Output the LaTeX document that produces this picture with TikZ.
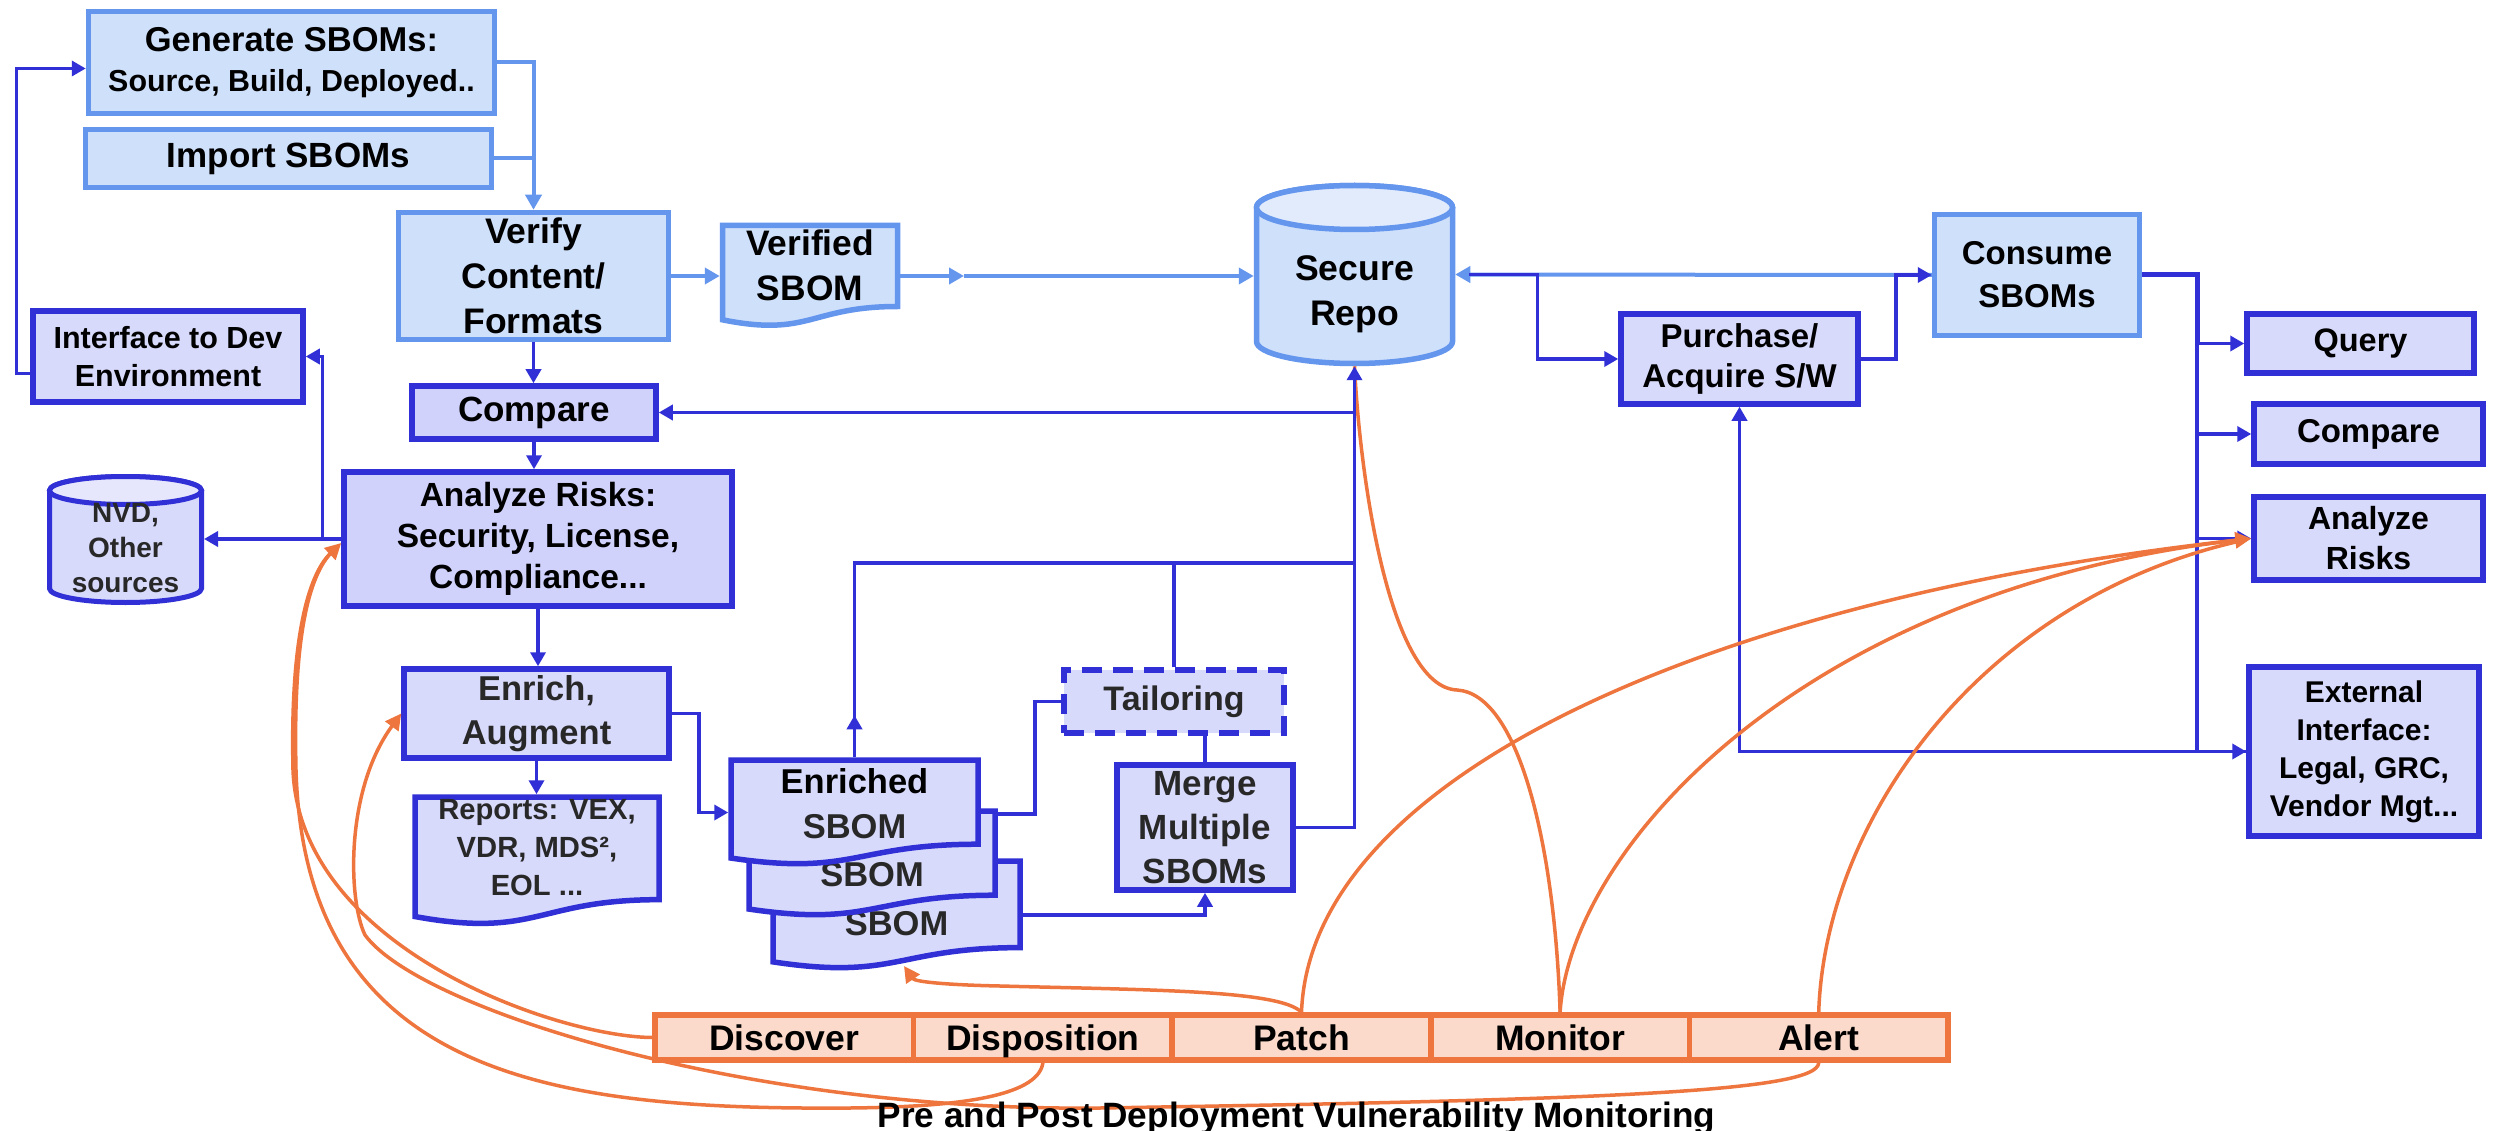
\documentclass[tikz,border=0pt]{standalone}
\usepackage{fontspec}
\setmainfont{Liberation Sans}
\usetikzlibrary{arrows.meta,calc}

\definecolor{lbline}{RGB}{100,150,238}
\definecolor{lbfill}{RGB}{207,224,250}
\definecolor{lbtop}{RGB}{225,235,252}
\definecolor{dbline}{RGB}{48,48,214}
\definecolor{dbfill}{RGB}{216,218,252}
\definecolor{dbfillb}{RGB}{208,210,252}
\definecolor{dbtop}{RGB}{230,231,253}
\definecolor{orline}{RGB}{238,118,62}
\definecolor{orfill}{RGB}{251,218,203}
\definecolor{tgray}{RGB}{40,40,40}

\newcommand\fz[2]{\fontsize{#1pt}{#2pt}\selectfont}

% document shape: style, left x, top y, width, height (y grows downward)
\newcommand\docshape[5]{%
  \path[#1] (#2,#3) -- ({#2+#4},#3) -- ({#2+#4},{#3+0.802*#5})
    .. controls ({#2+0.5*#4},{#3+0.802*#5}) and ({#2+0.5*#4},{#3+1.1075*#5})
    .. (#2,{#3+0.934*#5}) -- cycle;}

\tikzset{
  lbox/.style={draw=lbline, fill=lbfill, line width=5.5pt, inner sep=0pt, align=center},
  dbox/.style={draw=dbline, fill=dbfill, line width=5.5pt, inner sep=0pt, align=center},
  lbshape/.style={draw=lbline, fill=lbfill, line width=5.5pt},
  dbshape/.style={draw=dbline, fill=dbfill, line width=5.5pt},
  shapebox/.style={inner sep=0pt, outer sep=2.75pt},
  lbl/.style={align=center, inner sep=0pt},
  barcell/.style={draw=orline, fill=orfill, line width=5.5pt, inner sep=0pt,
    minimum width=258.6pt, minimum height=45pt, text height=25pt, text depth=0pt,
    font=\bfseries\fz{35.5}{40}},
  dlink/.style={draw=dbline, line width=3.5pt},
  darr/.style={dlink, -{Triangle[length=14pt,width=15pt]}},
  llink/.style={draw=lbline, line width=4pt},
  larr/.style={llink, -{Triangle[length=15pt,width=16pt]}},
  olink/.style={draw=orline, line width=3.5pt},
  oarr/.style={olink, -{Triangle[length=16pt,width=16pt]}},
}

\begin{document}
\begin{tikzpicture}[x=1pt,y=-1pt]
\useasboundingbox (0,0) rectangle (2503,1131);
\fill[white] (0,0) rectangle (2503,1131);

% ---------- SBOM intake ----------
\node[lbox, minimum width=406pt, minimum height=102pt, font=\bfseries\fz{34.5}{40}] (gen) at (291.5,62.5)
  {Generate SBOMs:\\{\fz{30.4}{40}Source, Build, Deployed..}};
\node[lbox, minimum width=406pt, minimum height=58pt, font=\bfseries\fz{35}{40}] (imp) at (288.5,158.5) {Import SBOMs};
\node[lbox, minimum width=270pt, minimum height=127pt, font=\bfseries\fz{35.5}{45}] (ver) at (533.5,276) {Verify\\Content/\\Formats};

\docshape{lbshape}{722.5}{225.5}{175}{101}
\node[shapebox, minimum width=175pt, minimum height=101pt,
  label={[lbl, font=\bfseries\fz{35.4}{45}, yshift=11pt]center:{Verified\\SBOM}}] (vsb) at (810,276) {};

% Secure repository
\path[lbshape] (1256.5,207.5) -- (1256.5,341.5)
  arc[start angle=180,end angle=360,x radius=98pt,y radius=22pt] -- (1452.5,207.5)
  arc[start angle=0,end angle=180,x radius=98pt,y radius=22pt] -- cycle;
\path[lbshape, fill=lbtop] (1354.5,207.5) ellipse[x radius=98pt,y radius=22pt];
\node[shapebox, minimum width=196pt, minimum height=178pt,
  label={[lbl, font=\bfseries\fz{35.6}{45}, yshift=-20pt]center:{Secure\\Repo}}] (repo) at (1354.5,274.5) {};

% External vulnerability sources
\path[dbshape, line width=5pt] (49.5,490.5) -- (49.5,588.5)
  arc[start angle=180,end angle=360,x radius=76pt,y radius=14pt] -- (201.5,490.5)
  arc[start angle=0,end angle=180,x radius=76pt,y radius=14pt] -- cycle;
\path[dbshape, line width=5pt, fill=dbtop] (125.5,490.5) ellipse[x radius=76pt,y radius=14pt];
\node[shapebox, outer sep=2.5pt, minimum width=152pt, minimum height=126pt,
  label={[lbl, text=tgray, font=\bfseries\fz{28}{35}, yshift=-9pt]center:{NVD,\\Other\\sources}}] (nvd) at (125.5,539.5) {};

% ---------- analysis chain ----------
\node[dbox, minimum width=270pt, minimum height=91pt, font=\bfseries\fz{30.5}{38}] (ifc) at (168,356.5) {Interface to Dev\\Environment};
\node[dbox, fill=dbfillb, minimum width=244pt, minimum height=53pt, font=\bfseries\fz{35}{40}] (cmpL) at (534,412.5) {Compare};
\node[dbox, fill=dbfillb, minimum width=388pt, minimum height=134pt, font=\bfseries\fz{33.5}{41}] (anL) at (538,539)
  {Analyze Risks:\\Security, License,\\Compliance...};
\node[dbox, minimum width=265pt, minimum height=89pt, text=tgray, font=\bfseries\fz{34.5}{44}] (enr) at (536.5,713.5) {Enrich,\\Augment};

\docshape{dbshape}{415}{797}{244}{128}
\node[shapebox, minimum width=244pt, minimum height=128pt,
  label={[lbl, text=tgray, font=\bfseries\fz{29.2}{38}, yshift=13pt]center:{Reports: VEX,\\VDR, MDS²,\\EOL ...}}] (rep) at (537,861) {};

% stacked enriched SBOMs (back to front)
\docshape{dbshape}{773}{861}{247}{108}
\node[shapebox, minimum width=247pt, minimum height=108pt,
  label={[lbl, text=tgray, font=\bfseries\fz{34.5}{45}, yshift=-8.5pt]center:SBOM}] (ebk) at (896.5,915) {};
\docshape{dbshape}{749}{811}{246}{105}
\node[shapebox, minimum width=246pt, minimum height=105pt,
  label={[lbl, text=tgray, font=\bfseries\fz{34.5}{45}, yshift=-11.5pt]center:SBOM}] (emd) at (872,863.5) {};
\docshape{dbshape}{731}{760}{247}{105}
\node[shapebox, minimum width=247pt, minimum height=105pt,
  label={[lbl, font=\bfseries\fz{34.5}{45}, yshift=8.5pt]center:{Enriched\\\textcolor{tgray}{SBOM}}}] (efr) at (854.5,812.5) {};

\node[dbox, dash pattern=on 20pt off 11pt, minimum width=220pt, minimum height=63pt, text=tgray,
  font=\bfseries\fz{34}{40}] (tai) at (1174,701.5) {Tailoring};
\node[dbox, minimum width=176pt, minimum height=125pt, text=tgray, font=\bfseries\fz{35}{44}] (mrg) at (1205,827.5)
  {Merge\\Multiple\\SBOMs};

% ---------- consumption side ----------
\node[dbox, minimum width=237pt, minimum height=90pt, font=\bfseries\fz{33}{40}] (pur) at (1739.5,359) {Purchase/\\Acquire S/W};
\node[lbox, minimum width=205pt, minimum height=121pt, font=\bfseries\fz{33}{43}] (con) at (2037,275) {Consume\\SBOMs};
\node[dbox, minimum width=227pt, minimum height=59pt, font=\bfseries\fz{32.5}{40}] (qry) at (2360.5,343.5) {Query};
\node[dbox, minimum width=229pt, minimum height=60pt, font=\bfseries\fz{33}{40}] (cmpR) at (2368.5,434) {Compare};
\node[dbox, minimum width=229pt, minimum height=83pt, font=\bfseries\fz{32}{40}] (anR) at (2368.5,538.5) {Analyze\\Risks};
\node[dbox, minimum width=230pt, minimum height=169pt, font=\bfseries\fz{30}{38}] (ext) at (2364,751.5)
  {External\\Interface:\\Legal, GRC,\\Vendor Mgt...};

% ---------- vulnerability monitoring bar ----------
\node[barcell] (dsc) at (784.3,1037.5) {Discover};
\node[barcell] (dsp) at (1042.9,1037.5) {Disposition};
\node[barcell] (pat) at (1301.5,1037.5) {Patch};
\node[barcell] (mon) at (1560.1,1037.5) {Monitor};
\node[barcell] (alr) at (1818.7,1037.5) {Alert};

% monitor feed into the repository (beneath the blue links)
\draw[olink] (mon.north) .. controls (1555,850) and (1520,694) .. (1457,690)
  .. controls (1390,687) and (1360,480) .. (repo.south);

% ---------- light-blue flow ----------
\draw[larr] (gen.east) -| (ver.north);
\draw[llink] (imp.east) -- (imp.east -| ver.north);
\draw[larr] (ver.east) -- (vsb.west);
\coordinate (vm) at (964,276);
\draw[larr] (vsb.east) -- (vm);
\draw[larr] (vm) -- (repo.west |- vm);
\draw[larr] (con.west) -- (repo.east);

% ---------- dark-blue flow ----------
\draw[darr] (ver.south) -- (ver.south |- cmpL.north);
\draw[darr] (cmpL.south) -- (cmpL.south |- anL.north);
\draw[darr] (anL.south) -- (anL.south |- enr.north);
\draw[darr] (enr.south) -- (enr.south |- rep.north);
\draw[darr] (anL.west) -- (anL.west -| nvd.east);
\draw[darr] (anL.west) -- ++(-19,0) |- (ifc.east);
\draw[darr] ([yshift=-17pt]ifc.west) -- ++(-14,0) |- ([yshift=-6pt]gen.west);

\draw[darr] (mrg.east) -| (repo.south);
\draw[darr] (repo.south |- cmpL.east) -- (cmpL.east);
\coordinate (jy) at (0,563);
\draw[darr] (efr.north) -- ++(0,-42);
\draw[dlink] (efr.north) -- (efr.north |- jy) -- (jy -| repo.south);
\draw[dlink] (tai.north) -- (tai.north |- jy);
\draw[dlink] (tai.south -| mrg.north) -- (mrg.north);
\draw[dlink] ([yshift=49.5pt]emd.east) -- ++(37,0) |- (tai.west);
\draw[darr] (ebk.east) -| (mrg.south);
\draw[darr] (enr.east) -- ++(27,0) |- (efr.west);

\draw[darr, shorten <=14pt] (repo.east) -- ++(82,0) |- (pur.west);
\draw[darr] (pur.east) -- ++(35,0) |- (con.west);
\coordinate (jr) at (2197,0);
\draw[dlink, line width=5pt] (con.east) -- (con.east -| jr) -- (jr |- qry.west);
\draw[darr] (jr |- qry.west) -- (qry.west);
\draw[darr] (jr |- qry.west) |- (cmpR.west);
\draw[darr] (jr |- qry.west) |- (anR.west);
\draw[darr] (jr |- qry.west) |- (ext.west);
\draw[darr] (ext.west) -| (pur.south);

% ---------- orange monitoring feedback ----------
\coordinate (ebkw) at (904,966);
\draw[oarr] (dsc.west) .. controls (560,1037) and (300,950) .. (293,770)
  .. controls (290,640) and (308,575) .. ([yshift=-4pt]anL.west);
\draw[olink, shorten >=12pt] (dsp.south) .. controls (1038,1098) and (950,1107) .. (850,1108)
  .. controls (560,1110) and (305,1080) .. (296,770)
  .. controls (293,640) and (308,575) .. ([yshift=-4pt]anL.west);
\draw[oarr] (alr.south) .. controls (1818,1092) and (1600,1100) .. (1100,1108)
  .. controls (750,1112) and (420,1010) .. (365,935)
  .. controls (348,900) and (345,790) .. (enr.west);
\draw[oarr] (pat.north) .. controls (1280,990) and (1150,990) .. (1000,986)
  .. controls (950,985) and (915,982) .. (ebkw);
\draw[olink, shorten >=12pt] (mon.north) .. controls (1570,850) and (1800,590) .. (anR.west);
\draw[olink, shorten >=12pt] (alr.north) .. controls (1825,820) and (1980,600) .. (anR.west);
\draw[oarr] (pat.north) .. controls (1310,780) and (1700,600) .. (anR.west);

\node[font=\bfseries\fz{35.2}{40}, anchor=base, inner sep=0pt] (cap) at (1296.5,1127)
  {Pre and Post Deployment Vulnerability Monitoring};
\end{tikzpicture}
\end{document}
